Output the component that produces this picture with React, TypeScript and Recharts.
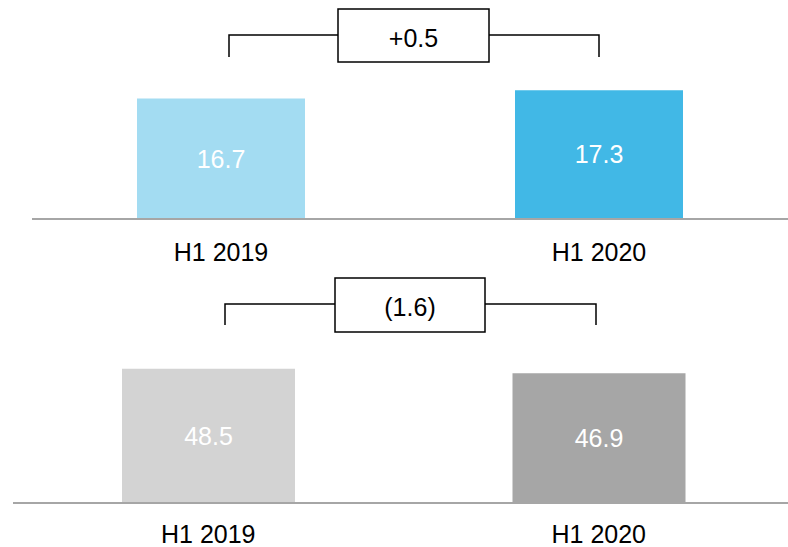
import React from 'react';
import { BarChart, Bar, XAxis, YAxis, Cell, LabelList } from 'recharts';

const categories = ['H1 2019', 'H1 2020'];
const topValues = [16.7, 17.3];
const bottomValues = [48.5, 46.9];
const topColors = ['#a3dcf2', '#41b8e6'];
const bottomColors = ['#d3d3d3', '#a6a6a6'];
const topDelta = '+0.5';
const bottomDelta = '(1.6)';

const topData = categories.map((name, i) => ({ name, value: topValues[i] }));
const bottomData = categories.map((name, i) => ({ name, value: bottomValues[i] }));

const FONT = '"Liberation Sans", Arial, sans-serif';

type BracketProps = {
  left: number;
  right: number;
  lineY: number;
  legY: number;
  boxX1: number;
  boxX2: number;
  boxY1: number;
  boxY2: number;
  text: string;
};

function Bracket({ left, right, lineY, legY, boxX1, boxX2, boxY1, boxY2, text }: BracketProps) {
  return (
    <g>
      <path
        d={`M${left},${legY} L${left},${lineY} L${boxX1},${lineY} M${boxX2},${lineY} L${right},${lineY} L${right},${legY}`}
        fill="none"
        stroke="#000"
        strokeWidth={1.5}
      />
      <rect x={boxX1} y={boxY1} width={boxX2 - boxX1} height={boxY2 - boxY1} fill="#fff" stroke="#000" strokeWidth={1.5} />
      <text
        x={(boxX1 + boxX2) / 2}
        y={(boxY1 + boxY2) / 2 + 2}
        textAnchor="middle"
        dominantBaseline="central"
        fontSize={25}
        fontFamily={FONT}
        fill="#000"
      >
        {text}
      </text>
    </g>
  );
}

export default function App() {
  return (
    <div
      style={{
        position: 'absolute',
        left: 0,
        top: 0,
        width: 788,
        height: 547,
        overflow: 'hidden',
        background: '#fff',
        fontFamily: FONT,
      }}
    >
      <div style={{ position: 'absolute', left: 0, top: 0 }}>
        <BarChart width={788} height={275} data={topData} margin={{ top: 25, right: 0, left: 32, bottom: 0 }}>
          <XAxis
            dataKey="name"
            height={56}
            axisLine={{ stroke: '#a6a6a6', strokeWidth: 2 }}
            tickLine={false}
            tickSize={0}
            tickMargin={24}
            tick={{ fontSize: 25, fill: '#000', fontFamily: FONT }}
          />
          <YAxis hide type="number" domain={[8, 22]} allowDataOverflow />
          <Bar dataKey="value" barSize={168} isAnimationActive={false}>
            {topData.map((d, i) => (
              <Cell key={d.name} fill={topColors[i]} />
            ))}
            <LabelList dataKey="value" position="center" fill="#fff" fontSize={25} fontFamily={FONT} />
          </Bar>
        </BarChart>
      </div>
      <div style={{ position: 'absolute', left: 0, top: 275 }}>
        <BarChart width={794} height={272} data={bottomData} margin={{ top: 62, right: 0, left: 13, bottom: 0 }}>
          <XAxis
            dataKey="name"
            height={44}
            axisLine={{ stroke: '#a6a6a6', strokeWidth: 2 }}
            tickLine={false}
            tickSize={0}
            tickMargin={22}
            tick={{ fontSize: 25, fill: '#000', fontFamily: FONT }}
          />
          <YAxis hide type="number" domain={[0, 60]} allowDataOverflow />
          <Bar dataKey="value" barSize={173} isAnimationActive={false}>
            {bottomData.map((d, i) => (
              <Cell key={d.name} fill={bottomColors[i]} />
            ))}
            <LabelList dataKey="value" position="center" fill="#fff" fontSize={25} fontFamily={FONT} />
          </Bar>
        </BarChart>
      </div>
      <svg width={788} height={547} style={{ position: 'absolute', left: 0, top: 0, pointerEvents: 'none' }}>
        <Bracket left={229} right={599} lineY={35} legY={57} boxX1={338} boxX2={489} boxY1={9} boxY2={62} text={topDelta} />
        <Bracket left={225} right={596} lineY={304} legY={325} boxX1={335} boxX2={485} boxY1={278} boxY2={332} text={bottomDelta} />
      </svg>
    </div>
  );
}
